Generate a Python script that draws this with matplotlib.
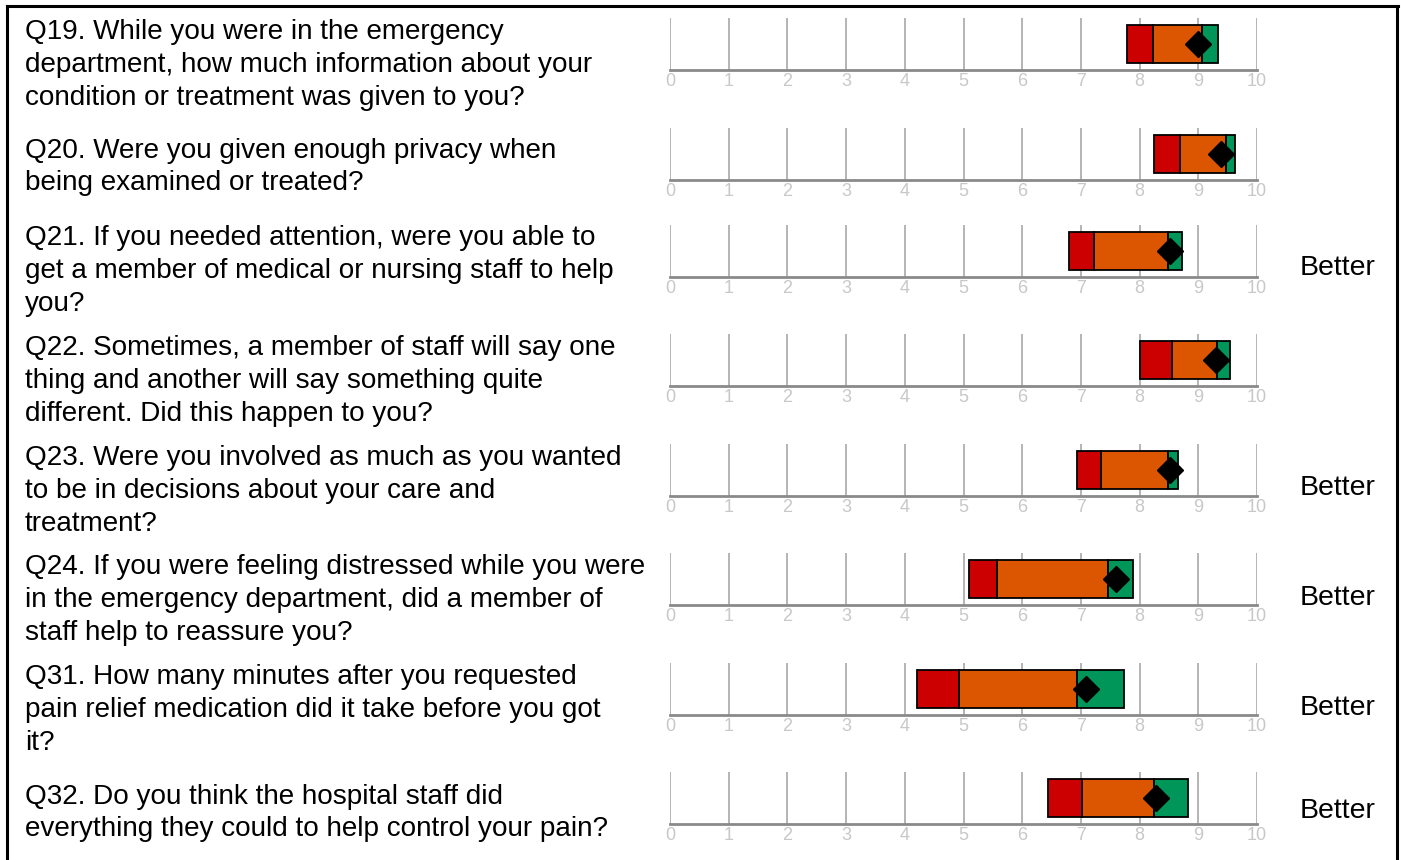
import matplotlib
matplotlib.use("Agg")
import matplotlib.pyplot as plt
from matplotlib.lines import Line2D

plt.rcParams['font.family'] = ['Liberation Sans', 'DejaVu Sans']

# question text per row
questions = [
    "Q19. While you were in the emergency\ndepartment, how much information about your\ncondition or treatment was given to you?",
    "Q20. Were you given enough privacy when\nbeing examined or treated?",
    "Q21. If you needed attention, were you able to\nget a member of medical or nursing staff to help\nyou?",
    "Q22. Sometimes, a member of staff will say one\nthing and another will say something quite\ndifferent. Did this happen to you?",
    "Q23. Were you involved as much as you wanted\nto be in decisions about your care and\ntreatment?",
    "Q24. If you were feeling distressed while you were\nin the emergency department, did a member of\nstaff help to reassure you?",
    "Q31. How many minutes after you requested\npain relief medication did it take before you got\nit?",
    "Q32. Do you think the hospital staff did\neverything they could to help control your pain?",
]
results = ["", "", "Better", "", "Better", "Better", "Better", "Better"]

# band edges (score out of 10) and the trust's score
red_start = [7.79, 8.25, 6.79, 8.00, 6.93, 5.09, 4.20, 6.44]
orange_start = [8.22, 8.68, 7.22, 8.56, 7.34, 5.57, 4.93, 7.02]
green_start = [9.06, 9.48, 8.48, 9.32, 8.49, 7.47, 6.94, 8.25]
green_end = [9.33, 9.63, 8.72, 9.54, 8.66, 7.89, 7.73, 8.82]
scores = [8.99, 9.38, 8.52, 9.31, 8.52, 7.60, 7.08, 8.28]

W, H = 1401, 860
fig = plt.figure(figsize=(W / 100, H / 100), dpi=100)

# layout in pixels
base_y = [70, 180, 277, 386, 496, 605, 715, 824]
text_y = [65, 167, 271, 381, 491, 600, 710, 813]
better_y = [62, 164, 268, 378, 488, 598, 708, 811]
x0, x1 = 670, 1257
grid_h = 52

red = "#cc0000"
orange = "#dc5500"
green = "#009659"

for i in range(len(questions)):
    b = base_y[i]
    ax = fig.add_axes([x0 / W, (H - b) / H, (x1 - x0) / W, grid_h / H])
    ax.set_xlim(0, 10)
    ax.set_ylim(0, 1)
    for s in ax.spines.values():
        s.set_visible(False)
    ax.set_yticks([])
    ax.set_xticks(range(11))
    ax.tick_params(axis='x', length=0, labelsize=13, labelcolor="#c8c8c8", pad=2)
    ax.patch.set_alpha(0)
    for k in range(11):
        ax.axvline(k, color="#b4b4b4", lw=1.4, zorder=0)
    ax.axhline(0, color="#8a8a8a", lw=2, zorder=1, clip_on=False)

    lefts = [red_start[i], orange_start[i], green_start[i]]
    widths = [orange_start[i] - red_start[i], green_start[i] - orange_start[i],
              green_end[i] - green_start[i]]
    ax.barh([0.5] * 3, widths, left=lefts, height=0.73,
            color=[red, orange, green], edgecolor="black", linewidth=1.3, zorder=2)
    ax.plot(scores[i], 0.5, marker="D", ms=13, color="black", zorder=3)

    fig.text(25 / W, 1 - text_y[i] / H, questions[i], fontsize=20.1,
             va="center", ha="left", linespacing=1.33)
    if results[i]:
        fig.text(1300 / W, 1 - better_y[i] / H, results[i], fontsize=20.5,
                 va="center", ha="left")

# outer frame (top, left, right)
lw = 2.2
fig.add_artist(Line2D([7 / W, 1398 / W], [1 - 6 / H, 1 - 6 / H], color="black", lw=lw))
fig.add_artist(Line2D([7 / W, 7 / W], [0, 1 - 6 / H], color="black", lw=lw))
fig.add_artist(Line2D([1397 / W, 1397 / W], [0, 1 - 6 / H], color="black", lw=lw))

fig.savefig("out.png", dpi=100)
